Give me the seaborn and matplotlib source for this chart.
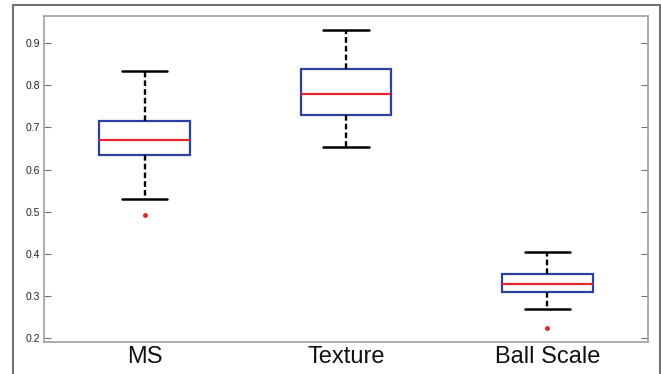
import matplotlib
matplotlib.use("Agg")
import matplotlib.pyplot as plt
from matplotlib.lines import Line2D
import pandas as pd
import seaborn as sns

# values
methods = ["MS", "Texture", "Ball Scale"]
lower_whisker = [0.531, 0.654, 0.270]
q1 = [0.634, 0.730, 0.310]
median = [0.670, 0.779, 0.329]
q3 = [0.716, 0.838, 0.353]
upper_whisker = [0.833, 0.931, 0.404]
outliers = [[0.492], [], [0.225]]
yticks = [0.2, 0.3, 0.4, 0.5, 0.6, 0.7, 0.8, 0.9]

# build a small sample per method that gives exactly those box statistics
rows = []
for i, m in enumerate(methods):
    vals = [lower_whisker[i], q1[i], q1[i], median[i], q3[i], q3[i], upper_whisker[i], upper_whisker[i]]
    vals += outliers[i]
    if not outliers[i]:
        vals = [lower_whisker[i]] + vals
    for v in vals:
        rows.append({"method": m, "value": v})
df = pd.DataFrame(rows)

sns.set_style("white")
plt.rcParams["font.family"] = ["Liberation Sans", "DejaVu Sans"]

fig = plt.figure(figsize=(6.61, 3.74), dpi=100)
ax = fig.add_axes([44 / 661, 1 - 342 / 374, (648 - 44) / 661, (342 - 15.7) / 374])

blue = "#2c3fa3"
red = "#e8242a"
sns.boxplot(data=df, x="method", y="value", order=methods, ax=ax, width=0.45,
            color="white", linewidth=1.6, whis=1.5,
            boxprops=dict(edgecolor=blue, facecolor="white", linewidth=1.6),
            medianprops=dict(color=red, linewidth=1.6),
            whiskerprops=dict(color="black", linestyle=(0, (2.4, 1.3)), linewidth=1.7),
            capprops=dict(color="black", linewidth=1.8),
            flierprops=dict(marker="o", markersize=2.5, markerfacecolor=red,
                            markeredgecolor=red))

ax.set_xlim(-0.5, 2.5)
ax.set_ylim(0.191, 0.965)
ax.set_yticks(yticks)
ax.set_yticklabels([f"{t:.1f}" for t in yticks], fontsize=7.5, color="#222222")
ax.tick_params(axis="y", direction="in", length=5, width=0.8, color="#707070",
               right=True, left=True, pad=3)
ax.tick_params(axis="x", length=0, labelsize=17, pad=3, labelcolor="#111111")
ax.set_xlabel("")
ax.set_ylabel("")
for s in ax.spines.values():
    s.set_color("#a0a0a0")
    s.set_linewidth(1.2)

# outer frame around the figure
frame_c = "#707070"
fig.add_artist(Line2D([13 / 661, 13 / 661], [0, 1 - 5 / 374], color=frame_c, lw=1.5))
fig.add_artist(Line2D([13 / 661, 660 / 661], [1 - 5 / 374, 1 - 5 / 374], color=frame_c, lw=1.5))
fig.add_artist(Line2D([660 / 661, 660 / 661], [0, 1 - 5 / 374], color=frame_c, lw=1.5))

fig.savefig("out.png", dpi=100)
